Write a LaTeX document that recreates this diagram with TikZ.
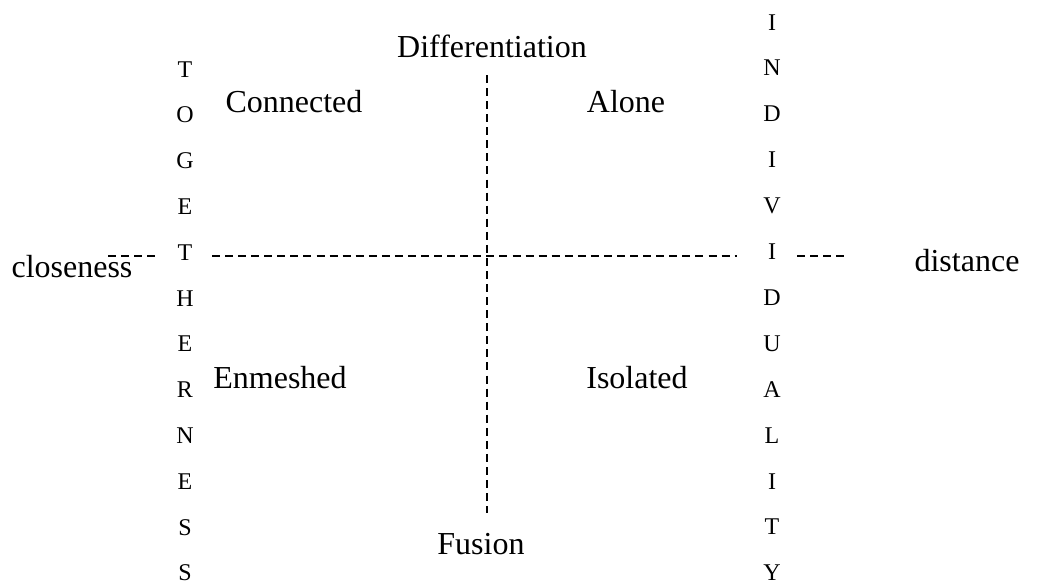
\documentclass[tikz,border=0pt]{standalone}
\usepackage{fontspec}
\setmainfont{Liberation Serif}
\begin{document}
\begin{tikzpicture}[x=0.75pt,y=-0.75pt,
  axis/.style={line width=1.1pt,dash pattern=on 6pt off 3.8pt},
  label/.style={anchor=base,inner sep=0pt,font=\fontsize{24}{28}\selectfont},
  letter/.style={anchor=base,inner sep=0pt,font=\fontsize{18}{21}\selectfont}]
\useasboundingbox (0,0) rectangle (1044,586);

% axis end points
\coordinate (vtop) at (487,75);
\coordinate (vbot) at (487,513);
\coordinate (hla) at (108,256);
\coordinate (hlb) at (160,256);
\coordinate (hma) at (212,256);
\coordinate (hmb) at (737,256);
\coordinate (hra) at (797,256);
\coordinate (hrb) at (845,256);

% dashed axes
\draw[axis] (vtop) -- (vbot);
\draw[axis] (hla) -- (hlb);
\draw[axis] (hma) -- (hmb);
\draw[axis] (hra) -- (hrb);

% axis labels
\node[label] (diff) at (492,57) {Differentiation};
\node[label] (fus) at (481,554) {Fusion};
\node[label] (clo) at (72,277) {closeness};
\node[label] (dist) at (967,271) {distance};

% quadrant labels
\node[label] (conn) at (294,112) {Connected};
\node[label] (alone) at (626,112) {Alone};
\node[label] (enm) at (280,388) {Enmeshed};
\node[label] (iso) at (637,388) {Isolated};

% vertical words
\foreach \ch [count=\i] in {T,O,G,E,T,H,E,R,N,E,S,S}
  \node[letter] (tog\i) at (185,{77+(\i-1)*45.8}) {\ch};
\foreach \ch [count=\i] in {I,N,D,I,V,I,D,U,A,L,I,T,Y}
  \node[letter] (ind\i) at (772,{30+(\i-1)*45.9}) {\ch};
\end{tikzpicture}
\end{document}
